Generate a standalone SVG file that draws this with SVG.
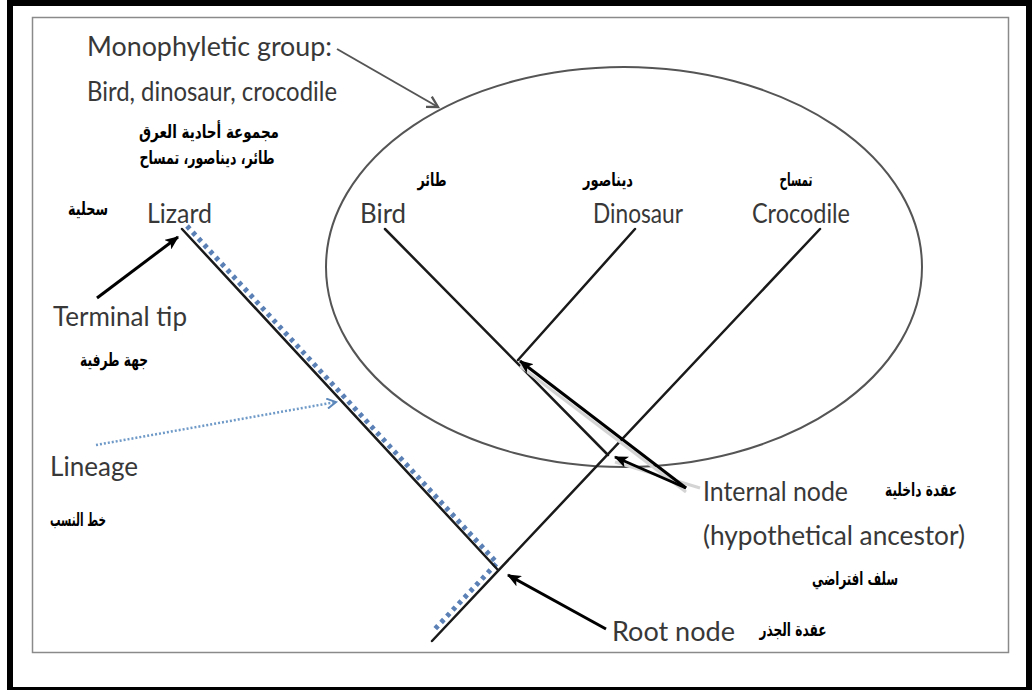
<svg xmlns="http://www.w3.org/2000/svg" width="1032" height="690" viewBox="0 0 1032 690">
<style>
.en{font-family:Lato,"Open Sans","Liberation Sans",sans-serif;font-size:27px;fill:#383838}
.ar{font-family:"DejaVu Sans","Noto Sans",sans-serif;font-size:18px;font-weight:bold;fill:#000}
.br{stroke:#1a1a1a;stroke-width:2.5;fill:none;stroke-linecap:round}
.arr{stroke:#000;stroke-width:3;fill:none}
</style>
<defs>
<marker id="hBlack" viewBox="0 0 12 10" refX="11" refY="5" markerWidth="14" markerHeight="12" markerUnits="userSpaceOnUse" orient="auto">
<path d="M0,0 L12,5 L0,10 L3,5 Z" fill="#000"/>
</marker>
<marker id="hGray" viewBox="0 0 12 12" refX="10" refY="6" markerWidth="14" markerHeight="14" markerUnits="userSpaceOnUse" orient="auto">
<path d="M1,1 L10,6 L1,11" fill="none" stroke="#555" stroke-width="2"/>
</marker>
<marker id="hBlue" viewBox="0 0 12 12" refX="10" refY="6" markerWidth="12" markerHeight="12" markerUnits="userSpaceOnUse" orient="auto">
<path d="M1,1 L10,6 L1,11" fill="none" stroke="#5b87bb" stroke-width="2"/>
</marker>
</defs>
<rect x="0" y="0" width="1032" height="690" fill="#fff"/>
<rect x="10" y="3" width="1019" height="687" fill="none" stroke="#000" stroke-width="6"/>
<rect x="32.5" y="17.5" width="976" height="635" fill="none" stroke="#8a8a8a" stroke-width="1.5"/>

<g id="clade">
<ellipse cx="624" cy="267" rx="298" ry="200" fill="none" stroke="#555" stroke-width="2"/>
</g>

<g id="tree">
<path d="M187,226 L497,563 L434,630" fill="none" stroke="#5a80b6" stroke-width="5" stroke-dasharray="4 4.5"/>
<line class="br" x1="182" y1="229" x2="498" y2="570"/>
<line class="br" x1="385" y1="229" x2="608" y2="455"/>
<line class="br" x1="635" y1="229" x2="518" y2="360"/>
<line class="br" x1="820" y1="229" x2="432" y2="641"/>
</g>

<g id="connectors">
<line x1="337" y1="49" x2="438" y2="107" stroke="#555" stroke-width="2" marker-end="url(#hGray)"/>
<line x1="97" y1="298" x2="178" y2="237" class="arr" marker-end="url(#hBlack)"/>
<line x1="96" y1="445" x2="336" y2="402" stroke="#6f9ac8" stroke-width="2.5" stroke-dasharray="2 2" marker-end="url(#hBlue)"/>
<line x1="520" y1="366" x2="686" y2="492" stroke="#d4d4d4" stroke-width="3"/>
<line x1="615" y1="462" x2="700" y2="488" stroke="#d4d4d4" stroke-width="3"/>
<line x1="686" y1="488" x2="520" y2="361" class="arr" marker-end="url(#hBlack)"/>
<line x1="686" y1="488" x2="615" y2="457" class="arr" marker-end="url(#hBlack)"/>
<line x1="606" y1="629" x2="508" y2="575" class="arr" marker-end="url(#hBlack)"/>
</g>

<g id="monophyletic">
<text class="en" x="87" y="56" textLength="245" lengthAdjust="spacingAndGlyphs">Monophyletic group:</text>
<text class="en" x="87" y="101" textLength="250" lengthAdjust="spacingAndGlyphs">Bird, dinosaur, crocodile</text>
<text class="ar" x="209" y="138" text-anchor="middle" textLength="140" lengthAdjust="spacingAndGlyphs">مجموعة أحادية العرق</text>
<text class="ar" x="207" y="164" text-anchor="middle" textLength="135" lengthAdjust="spacingAndGlyphs">طائر، ديناصور، تمساح</text>
</g>
<g id="lizard">
<text class="ar" x="88" y="215" text-anchor="middle" textLength="40" lengthAdjust="spacingAndGlyphs">سحلية</text>
<text class="en" x="147" y="223" textLength="65" lengthAdjust="spacingAndGlyphs">Lizard</text>
</g>
<g id="bird">
<text class="ar" x="432" y="186" text-anchor="middle" textLength="29" lengthAdjust="spacingAndGlyphs">طائر</text>
<text class="en" x="360" y="223" textLength="46" lengthAdjust="spacingAndGlyphs">Bird</text>
</g>
<g id="dinosaur">
<text class="ar" x="608" y="186" text-anchor="middle" textLength="50" lengthAdjust="spacingAndGlyphs">ديناصور</text>
<text class="en" x="593" y="223" textLength="90" lengthAdjust="spacingAndGlyphs">Dinosaur</text>
</g>
<g id="crocodile">
<text class="ar" x="796" y="186" text-anchor="middle" textLength="33" lengthAdjust="spacingAndGlyphs">تمساح</text>
<text class="en" x="752" y="223" textLength="98" lengthAdjust="spacingAndGlyphs">Crocodile</text>
</g>
<g id="terminal-tip">
<text class="en" x="53" y="326" textLength="134" lengthAdjust="spacingAndGlyphs">Terminal tip</text>
<text class="ar" x="114" y="366" text-anchor="middle" textLength="68" lengthAdjust="spacingAndGlyphs">جهة طرفية</text>
</g>
<g id="lineage">
<text class="en" x="50" y="476" textLength="88" lengthAdjust="spacingAndGlyphs">Lineage</text>
<text class="ar" x="78" y="526" text-anchor="middle" textLength="56" lengthAdjust="spacingAndGlyphs">خط النسب</text>
</g>
<g id="internal-node">
<text class="en" x="703" y="501" textLength="145" lengthAdjust="spacingAndGlyphs">Internal node</text>
<text class="ar" x="921" y="496" text-anchor="middle" textLength="72" lengthAdjust="spacingAndGlyphs">عقدة داخلية</text>
<text class="en" x="703" y="545" textLength="262" lengthAdjust="spacingAndGlyphs">(hypothetical ancestor)</text>
<text class="ar" x="855" y="585" text-anchor="middle" textLength="86" lengthAdjust="spacingAndGlyphs">سلف افتراضي</text>
</g>
<g id="root-node">
<text class="en" x="612" y="641" textLength="123" lengthAdjust="spacingAndGlyphs">Root node</text>
<text class="ar" x="793" y="636" text-anchor="middle" textLength="67" lengthAdjust="spacingAndGlyphs">عقدة الجذر</text>
</g>
</svg>
